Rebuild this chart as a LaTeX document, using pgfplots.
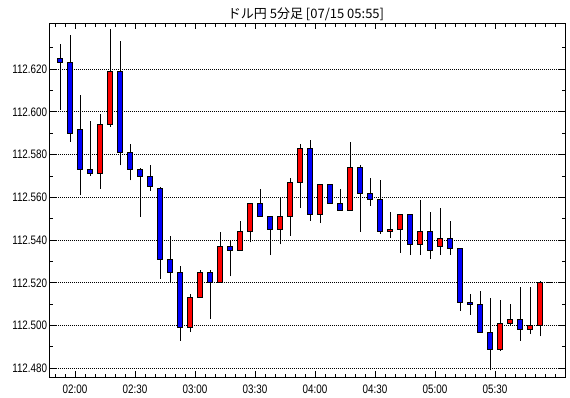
\documentclass[border=0pt]{standalone}
\usepackage{pgfplots}
\pgfplotsset{compat=1.18}
\usepackage{pgfplotstable}
\usepackage{fontspec}
\setmainfont{Liberation Sans}
\newfontfamily\tickfont[FakeStretch=0.8]{Liberation Sans}
\newfontfamily\cjk{Noto Sans CJK JP}

\pgfplotstableread{
k o h l c
0 112.625 112.632 112.601 112.623
1 112.623 112.636 112.586 112.590
2 112.592 112.608 112.561 112.573
3 112.573 112.596 112.570 112.571
4 112.571 112.599 112.564 112.594
5 112.594 112.639 112.593 112.619
6 112.619 112.633 112.575 112.581
7 112.581 112.585 112.568 112.573
8 112.573 112.574 112.551 112.570
9 112.570 112.575 112.563 112.565
10 112.564 112.565 112.522 112.531
11 112.531 112.542 112.520 112.525
12 112.525 112.528 112.493 112.499
13 112.499 112.515 112.497 112.513
14 112.513 112.526 112.513 112.525
15 112.525 112.526 112.503 112.520
16 112.520 112.544 112.520 112.537
17 112.537 112.540 112.523 112.535
18 112.535 112.549 112.535 112.544
19 112.544 112.557 112.539 112.557
20 112.557 112.564 112.551 112.551
21 112.551 112.551 112.533 112.545
22 112.545 112.560 112.538 112.551
23 112.551 112.569 112.542 112.567
24 112.567 112.585 112.555 112.583
25 112.583 112.587 112.549 112.552
26 112.552 112.566 112.548 112.566
27 112.566 112.566 112.557 112.557
28 112.557 112.564 112.554 112.554
29 112.554 112.586 112.554 112.574
30 112.574 112.575 112.544 112.562
31 112.562 112.569 112.556 112.559
32 112.559 112.568 112.543 112.544
33 112.544 112.553 112.541 112.545
34 112.545 112.552 112.534 112.552
35 112.552 112.552 112.533 112.538
36 112.538 112.559 112.533 112.544
37 112.544 112.553 112.531 112.535
38 112.537 112.555 112.533 112.541
39 112.541 112.549 112.533 112.536
40 112.536 112.536 112.507 112.511
41 112.511 112.515 112.505 112.510
42 112.510 112.516 112.497 112.497
43 112.497 112.513 112.479 112.489
44 112.489 112.512 112.488 112.501
45 112.501 112.510 112.500 112.503
46 112.503 112.518 112.493 112.498
47 112.498 112.518 112.496 112.500
48 112.500 112.521 112.495 112.520
49 112.520 112.520 112.520 112.520
}\candles

\begin{document}
\begin{tikzpicture}
\path[use as bounding box] (0,0) rectangle (570bp,398bp);
\begin{axis}[
  at={(49.8bp,20.7bp)}, anchor=south west,
  scale only axis, width=515.5bp, height=354bp,
  xmin=-1.02, xmax=50.53, ymin=112.4758, ymax=112.6415,
  axis line style={line width=1.2bp, black},
  tick align=inside,
  xtick={1.5,7.5,13.5,19.5,25.5,31.5,37.5,43.5},
  xticklabels={02:00,02:30,03:00,03:30,04:00,04:30,05:00,05:30},
  minor xtick={-0.5,0.5,...,50.5},
  ytick={112.48,112.50,112.52,112.54,112.56,112.58,112.60,112.62},
  minor ytick={112.49,112.51,112.53,112.55,112.57,112.59,112.61,112.63},
  scaled y ticks=false,
  yticklabel={\pgfmathprintnumber[fixed,fixed zerofill,precision=3,assume math mode=true]{\tick}},
  tick label style={font=\tickfont\fontsize{12.3bp}{14bp}\selectfont, black},
  y tick label style={anchor=east, inner sep=0pt, xshift=-2.5bp},
  x tick label style={anchor=north, inner sep=0pt, yshift=-7bp},
  major tick length=6bp, minor tick length=3.5bp,
  every tick/.style={black, line width=1bp},
  ymajorgrids,
  major grid style={black, line width=1bp, dash pattern=on 1bp off 1bp},
]
\pgfplotstablegetrowsof{\candles}
\pgfmathtruncatemacro\N{\pgfplotsretval-1}
\pgfplotsforeachungrouped \i in {0,...,\N}{%
  \pgfplotstablegetelem{\i}{k}\of\candles \let\K\pgfplotsretval
  \pgfplotstablegetelem{\i}{o}\of\candles \let\O\pgfplotsretval
  \pgfplotstablegetelem{\i}{h}\of\candles \let\Hi\pgfplotsretval
  \pgfplotstablegetelem{\i}{l}\of\candles \let\Lo\pgfplotsretval
  \pgfplotstablegetelem{\i}{c}\of\candles \let\C\pgfplotsretval
  \pgfmathsetmacro\xa{\K-0.29}%
  \pgfmathsetmacro\xb{\K+0.29}%
  \ifdim\C pt<\O pt \def\col{blue}\else\def\col{red}\fi
  \edef\tmp{%
    \noexpand\addplot[black, line width=1bp] coordinates {(\K,\Lo) (\K,\Hi)};
    \noexpand\addplot[draw=black, line width=1bp, fill=\col] coordinates {(\xa,\O) (\xb,\O) (\xb,\C) (\xa,\C)} -- cycle;
  }\tmp
}
\end{axis}
\node[anchor=base, inner sep=0pt, font=\cjk\fontsize{13bp}{15bp}\selectfont] at (306bp,379.7bp) {ドル円 5分足 [07/15 05:55]};
\end{tikzpicture}
\end{document}
